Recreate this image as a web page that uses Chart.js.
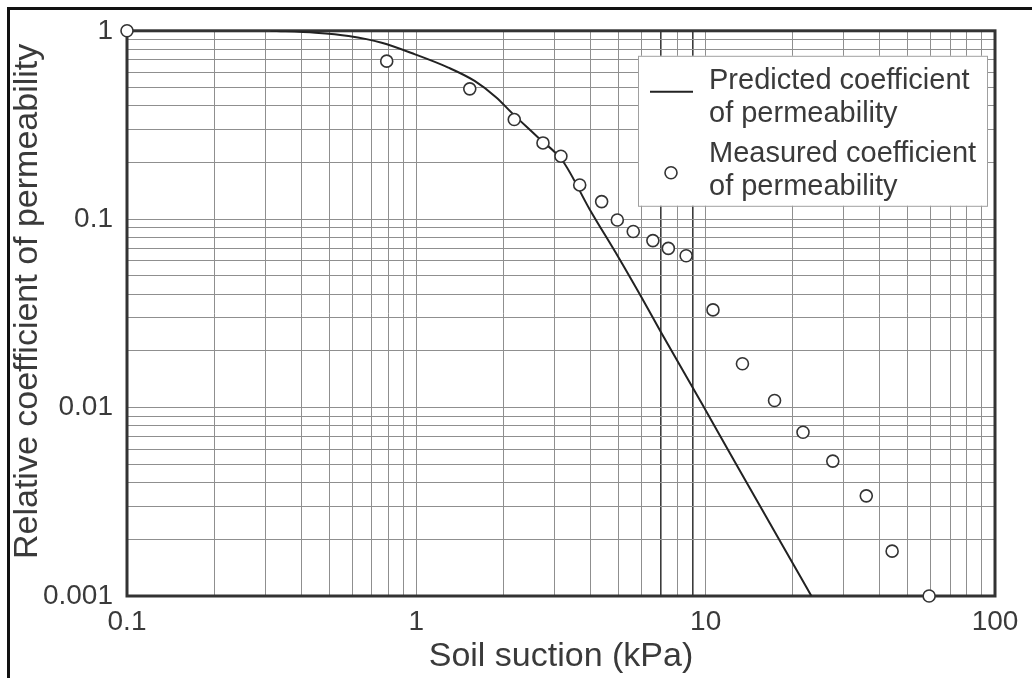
<!DOCTYPE html>
<html>
<head>
<meta charset="utf-8">
<script src="https://cdn.jsdelivr.net/npm/chart.js@4.4.1/dist/chart.umd.min.js"></script>
<style>
  html, body { margin: 0; padding: 0; background: #fff; }
  #wrap { position: relative; width: 1032px; height: 678px; overflow: hidden; }
  #frame { position: absolute; left: 7px; top: 7px; right: -10px; bottom: -10px;
           border-left: 3px solid #111; border-top: 3px solid #111; pointer-events: none; }
</style>
</head>
<body>
<div id="wrap">
  <canvas id="permChart" width="1032" height="678"></canvas>
  <div id="frame"></div>
</div>
<script>
// measured relative coefficient of permeability vs soil suction (kPa)
const suctionMeasured = [0.1, 0.79, 1.53, 2.18, 2.74, 3.16, 3.67, 4.37, 4.95, 5.62, 6.57, 7.43, 8.56,
                         10.6, 13.4, 17.3, 21.7, 27.5, 35.9, 44.1, 59.2];
const krMeasured = [1.0, 0.69, 0.492, 0.338, 0.254, 0.216, 0.152, 0.124, 0.099, 0.086, 0.077, 0.070, 0.064,
                    0.033, 0.0171, 0.0109, 0.0074, 0.0052, 0.0034, 0.00173, 0.001];

// predicted curve
const suctionPredicted = [0.313, 0.448, 0.583, 0.759, 0.99, 1.29, 1.59, 1.89, 2.13, 2.63, 3.21, 3.97,
                          5.0, 6.0, 7.0, 9.7, 12.75, 17.8, 23.2];
const krPredicted = [1.0, 0.976, 0.938, 0.864, 0.75, 0.638, 0.542, 0.443, 0.369, 0.272, 0.203, 0.113,
                     0.0626, 0.0385, 0.0252, 0.0105, 0.005, 0.00204, 0.001];

const xTickLabels = ['0.1', '1', '10', '100'];
const yTickLabels = ['0.001', '0.01', '0.1', '1'];
const yTitle = 'Relative coefficient of permeability';
const legendText = [['Predicted coefficient', 'of permeability'], ['Measured coefficient', 'of permeability']];

const fontFamily = "'Liberation Sans', Arial, Helvetica, sans-serif";
const textColor = '#3a3a3a';
const gridColor = '#8f8f8f';
const darkX = [7, 9]; // the two heavier vertical rules in the 1-10 decade

// 1..9 x 10^n grid lines between the labelled decades
function logGrid(labels) {
  const exps = labels.map(l => Math.round(Math.log10(parseFloat(l))));
  const out = [];
  for (let e = exps[0]; e < exps[exps.length - 1]; e++) {
    for (let m = 1; m < 10; m++) out.push(parseFloat(m + 'e' + e));
  }
  out.push(parseFloat(labels[labels.length - 1]));
  return out;
}
const xGrid = logGrid(xTickLabels);
const yGrid = logGrid(yTickLabels);

const frameAndKey = {
  id: 'frameAndKey',
  beforeDatasetsDraw(chart) {
    const {ctx, chartArea: a} = chart;
    ctx.save();
    ctx.strokeStyle = '#333';
    ctx.lineWidth = 3;
    ctx.strokeRect(a.left, a.top, a.right - a.left, a.bottom - a.top);
    ctx.restore();
  },
  afterDraw(chart) {
    const {ctx, chartArea: a} = chart;
    const measured = chart.data.datasets[0];
    const predicted = chart.data.datasets[1];

    // y axis title, sitting a little above the axis centre
    ctx.save();
    ctx.translate(27.5, (a.top + a.bottom) / 2 - 12);
    ctx.rotate(-Math.PI / 2);
    ctx.fillStyle = textColor;
    ctx.font = '34px ' + fontFamily;
    ctx.textAlign = 'center';
    ctx.textBaseline = 'middle';
    ctx.fillText(yTitle, 0, 0);
    ctx.restore();

    const bx = a.right - 357, by = a.top + 25, bw = 349, bh = 150;
    ctx.save();
    ctx.fillStyle = '#fff';
    ctx.fillRect(bx, by, bw, bh);
    ctx.strokeStyle = '#a0a0a0';
    ctx.lineWidth = 1;
    ctx.strokeRect(bx + 0.5, by + 0.5, bw, bh);

    // line sample
    ctx.strokeStyle = predicted.borderColor;
    ctx.lineWidth = predicted.borderWidth;
    ctx.beginPath();
    ctx.moveTo(bx + 12, by + 36);
    ctx.lineTo(bx + 55, by + 36);
    ctx.stroke();

    // marker sample
    ctx.fillStyle = measured.backgroundColor;
    ctx.strokeStyle = measured.borderColor;
    ctx.lineWidth = measured.borderWidth;
    ctx.beginPath();
    ctx.arc(bx + 33, by + 117, measured.pointRadius, 0, Math.PI * 2);
    ctx.fill();
    ctx.stroke();

    ctx.fillStyle = textColor;
    ctx.font = '29px ' + fontFamily;
    ctx.textBaseline = 'alphabetic';
    ctx.textAlign = 'left';
    const baselines = [[33, 66], [106, 139]];
    legendText.forEach((lines, i) => {
      lines.forEach((t, j) => ctx.fillText(t, bx + 71, by + baselines[i][j]));
    });
    ctx.restore();
  }
};

const ctx = document.getElementById('permChart').getContext('2d');
const permChart = new Chart(ctx, {
  type: 'scatter',
  data: {
    datasets: [
      {
        label: 'Measured coefficient of permeability',
        data: suctionMeasured.map((x, i) => ({x: x, y: krMeasured[i]})),
        pointRadius: 6,
        pointStyle: 'circle',
        backgroundColor: '#ffffff',
        borderColor: '#333333',
        borderWidth: 1.6,
        clip: false
      },
      {
        label: 'Predicted coefficient of permeability',
        type: 'line',
        data: suctionPredicted.map((x, i) => ({x: x, y: krPredicted[i]})),
        borderColor: '#222222',
        borderWidth: 2,
        pointRadius: 0,
        fill: false,
        cubicInterpolationMode: 'monotone'
      }
    ]
  },
  options: {
    responsive: false,
    animation: false,
    layout: { padding: { left: 0, top: 28, right: 37, bottom: 0 } },
    plugins: {
      legend: { display: false },
      tooltip: { enabled: false }
    },
    scales: {
      x: {
        type: 'logarithmic',
        min: 0.1,
        max: 100,
        afterBuildTicks: s => { s.ticks = xGrid.map(v => ({value: v})); },
        afterFit: s => { s.height = 82; },
        ticks: {
          autoSkip: false,
          maxRotation: 0,
          padding: 9,
          color: textColor,
          font: { family: fontFamily, size: 28 },
          callback: v => xTickLabels.includes(String(v)) ? String(v) : ''
        },
        grid: {
          drawTicks: false,
          color: c => darkX.includes(c.tick && c.tick.value) ? '#3c3c3c' : gridColor,
          lineWidth: c => darkX.includes(c.tick && c.tick.value) ? 1.6 : 1
        },
        border: { display: false },
        title: {
          display: true,
          text: 'Soil suction (kPa)',
          color: textColor,
          font: { family: fontFamily, size: 34 },
          padding: { top: 0, bottom: 1 }
        }
      },
      y: {
        type: 'logarithmic',
        min: 0.001,
        max: 1,
        afterBuildTicks: s => { s.ticks = yGrid.map(v => ({value: v})); },
        afterFit: s => { s.width = 127; },
        ticks: {
          autoSkip: false,
          padding: 14,
          color: textColor,
          font: { family: fontFamily, size: 28 },
          callback: v => yTickLabels.includes(String(v)) ? String(v) : ''
        },
        grid: {
          drawTicks: false,
          color: gridColor,
          lineWidth: 1
        },
        border: { display: false }
      }
    }
  },
  plugins: [frameAndKey]
});
</script>
</body>
</html>
